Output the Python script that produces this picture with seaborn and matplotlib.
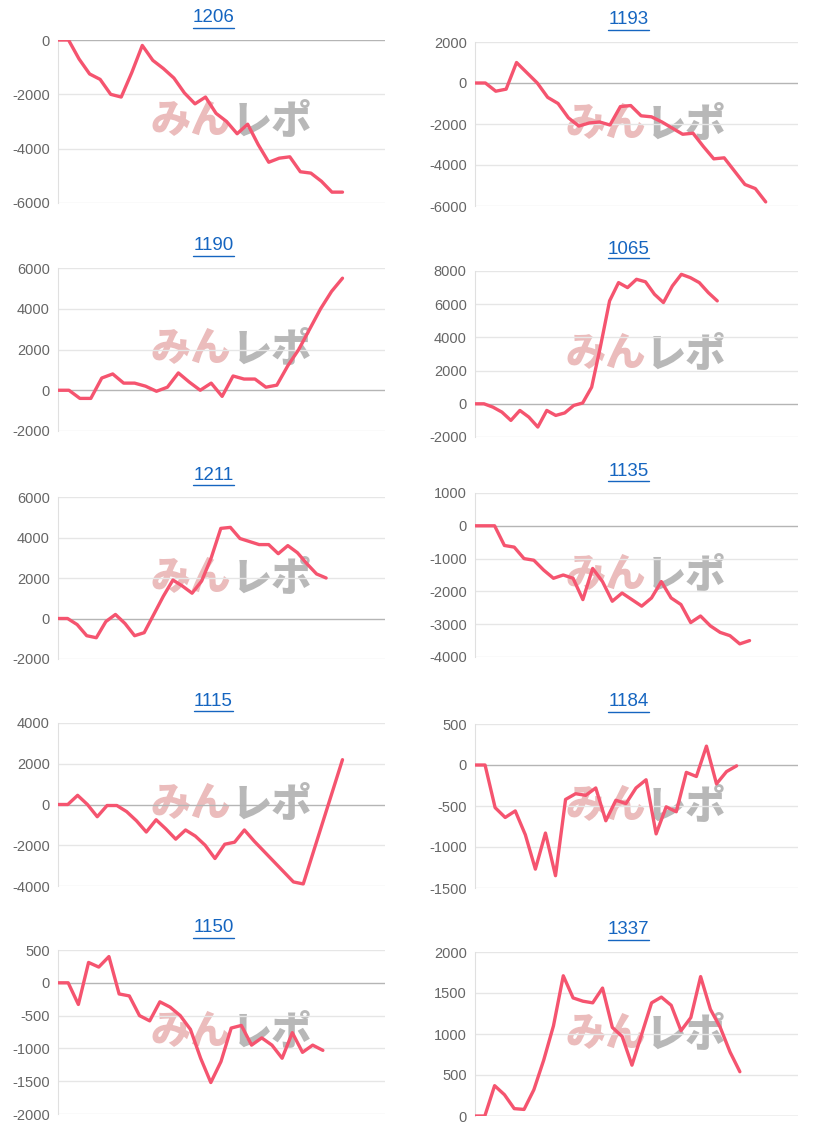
import numpy as np
import pandas as pd
import matplotlib
matplotlib.use("Agg")
import matplotlib.pyplot as plt
import seaborn as sns

titles = ["1206", "1193", "1190", "1065", "1211", "1135", "1115", "1184", "1150", "1337"]

v1206 = [0, 0, -700, -1250, -1450, -2000, -2100, -1200, -200, -750, -1050, -1400, -1950, -2350,
         -2100, -2700, -3000, -3450, -3100, -3850, -4500, -4350, -4300, -4850, -4900, -5200, -5600, -5600]
v1193 = [0, 0, -400, -300, 1000, 500, 0, -700, -1000, -1700, -2100, -1950, -1900, -2050, -1150,
         -1100, -1600, -1650, -1900, -2200, -2500, -2450, -3100, -3700, -3650, -4300, -4950, -5150, -5800]
v1190 = [0, 0, -400, -400, 600, 800, 350, 350, 200, -50, 150, 850, 400, 0, 350, -300, 700, 550,
         550, 150, 250, 1200, 2000, 3000, 4000, 4850, 5500]
v1065 = [0, 0, -200, -500, -1000, -400, -800, -1400, -400, -700, -550, -100, 50, 1000, 3500, 6200,
         7300, 7000, 7500, 7350, 6600, 6100, 7100, 7800, 7600, 7300, 6700, 6200]
v1211 = [0, 0, -300, -850, -950, -150, 200, -250, -850, -700, 200, 1100, 1900, 1600, 1250, 1850,
         3000, 4450, 4500, 3950, 3800, 3650, 3650, 3200, 3600, 3250, 2700, 2200, 2000]
v1135 = [0, 0, 0, -600, -650, -1000, -1050, -1350, -1600, -1500, -1600, -2250, -1300, -1700, -2300,
         -2050, -2250, -2450, -2200, -1700, -2200, -2400, -2950, -2750, -3050, -3250, -3350, -3600, -3500]
v1115 = [0, 0, 450, 0, -600, -50, -50, -350, -800, -1350, -750, -1200, -1700, -1250, -1550, -2000,
         -2650, -1950, -1850, -1250, -1800, -2300, -2800, -3300, -3800, -3900, 2200]
d1115 = list(range(26)) + [29]
v1184 = [0, 0, -520, -640, -560, -850, -1270, -830, -1350, -420, -350, -370, -280, -680, -430, -470,
         -280, -180, -840, -510, -570, -90, -140, 230, -230, -80, -10]
v1150 = [0, 0, -330, 310, 240, 400, -170, -200, -500, -580, -290, -370, -500, -710, -1150, -1520,
         -1200, -690, -650, -950, -840, -950, -1150, -760, -1060, -950, -1030]
v1337 = [0, 0, 370, 260, 90, 80, 320, 680, 1100, 1710, 1440, 1400, 1380, 1560, 1080, 970, 620, 1000,
         1380, 1450, 1350, 1040, 1200, 1700, 1300, 1080, 780, 540]

series = [v1206, v1193, v1190, v1065, v1211, v1135, v1115, v1184, v1150, v1337]
days = [list(range(len(v))) for v in series]
days[6] = d1115
ylims = [(-6000, 0), (-6000, 2000), (-2000, 6000), (-2000, 8000), (-2000, 6000),
         (-4000, 1000), (-4000, 4000), (-1500, 500), (-2000, 500), (0, 2000)]
ysteps = [2000, 2000, 2000, 2000, 2000, 1000, 2000, 500, 500, 500]
fracs = [0.87, 0.90, 0.87, 0.75, 0.82, 0.85, 0.87, 0.81, 0.81, 0.82]

sns.set_style("white")
plt.rcParams['font.family'] = ['Noto Sans CJK JP', 'DejaVu Sans']

W, H = 829, 1130
fig = plt.figure(figsize=(W / 100, H / 100), dpi=100)
boxes = [(58, 40, 385, 203), (475, 42, 798, 206),
         (58, 268, 385, 431), (475, 271, 798, 437),
         (58, 497, 385, 659), (475, 493, 798, 657),
         (58, 723, 385, 886), (475, 724, 798, 888),
         (58, 950, 385, 1114), (475, 952, 798, 1116)]

for i, (t, v, d, yl, ys, fr, b) in enumerate(zip(titles, series, days, ylims, ysteps, fracs, boxes)):
    x0, y0, x1, y1 = b
    ax = fig.add_axes([x0 / W, 1 - y1 / H, (x1 - x0) / W, (y1 - y0) / H])
    df = pd.DataFrame({"day": d, "value": v})
    ax.text(0.53, 0.5, "みん", transform=ax.transAxes, ha="right", va="center",
            fontsize=29, fontweight="heavy", style="italic", color="#ebbcbc", zorder=1)
    ax.text(0.53, 0.5, "レポ", transform=ax.transAxes, ha="left", va="center",
            fontsize=29, fontweight="heavy", style="italic", color="#b8b8b8", zorder=1)
    sns.lineplot(data=df, x="day", y="value", ax=ax, color="#f5546f", linewidth=2.4, zorder=3)
    ax.set_xlim(0, d[-1] / fr)
    ax.set_ylim(*yl)
    ticks = np.arange(yl[0], yl[1] + 1, ys)
    ax.set_yticks(ticks)
    ax.set_yticklabels([str(int(k)) for k in ticks])
    ax.set_xticks([])
    ax.set_xlabel("")
    ax.set_ylabel("")
    for k in ticks:
        ax.axhline(k, color="#b5b5b5" if k == 0 else "#e6e6e6", linewidth=1, zorder=2)
    for s in ["top", "right", "bottom"]:
        ax.spines[s].set_visible(False)
    ax.spines["left"].set_color("#e0e0e0")
    ax.tick_params(axis="y", length=0, labelsize=10.5, labelcolor="#666666", pad=6)
    for lab in ax.get_yticklabels():
        lab.set_family(["Liberation Sans", "DejaVu Sans"])
    ttl = fig.text(((x0 + x1) / 2 - 8) / W, 1 - (y0 - 22) / H, t, ha="center", va="center",
                   fontsize=13.5, color="#1565c0", family=["Liberation Sans", "DejaVu Sans"])
    fig.canvas.draw()
    bb = ttl.get_window_extent()
    fig.add_artist(plt.Line2D([bb.x0 / W, bb.x1 / W], [(bb.y0 - 1) / H, (bb.y0 - 1) / H],
                              color="#1565c0", linewidth=1))

fig.savefig("out.png", dpi=100)
